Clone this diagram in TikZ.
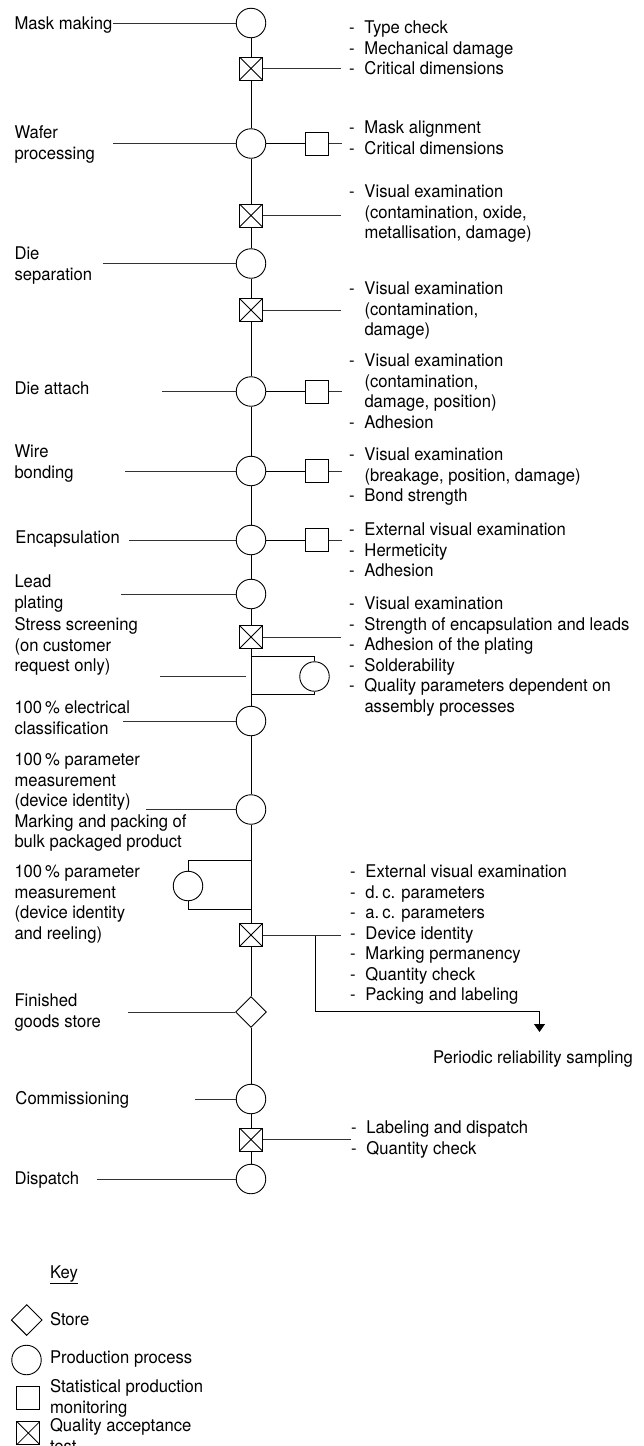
\documentclass[tikz,border=0pt]{standalone}
\usepackage{fontspec}
\setmainfont{TeX Gyre Heros}[FakeStretch=0.95]
\usetikzlibrary{shapes.geometric,arrows.meta}
\newcommand\di{\makebox[15.5pt][l]{-}}
\newcommand\ci{\hspace*{15.5pt}}
\newcommand\lines[1]{\begin{tabular}[t]{@{}l@{}}#1\end{tabular}}
\begin{document}
\begin{tikzpicture}[x=1pt,y=-1pt,
  font=\fontsize{17.5}{20.5}\selectfont,
  proc/.style={circle,draw,fill=white,minimum size=29.5pt,inner sep=0pt,line width=0.9pt},
  spm/.style={rectangle,draw,fill=white,minimum width=23pt,minimum height=23pt,inner sep=0pt,line width=0.9pt},
  qat/.style={spm,path picture={\draw[line width=0.8pt] (path picture bounding box.north west) -- (path picture bounding box.south east) (path picture bounding box.north east) -- (path picture bounding box.south west);}},
  store/.style={diamond,draw,fill=white,minimum width=31pt,minimum height=31pt,inner sep=0pt,line width=0.9pt},
  lbl/.style={anchor=base west,inner sep=0pt,outer sep=0pt},
  conn/.style={line width=0.8pt},
  lead/.style={line width=0.7pt,black!80},
  arr/.style={line width=0.8pt,-{Triangle[width=11pt,length=8pt]}}
]
\useasboundingbox (0,0) rectangle (643,1446);
\def\X{251}
% main flow nodes
\node[proc] (c1) at (\X,23) {};
\node[qat]  (q1) at (\X,68.5) {};
\node[proc] (c2) at (\X,143.5) {};
\node[spm]  (s1) at (317,143.5) {};
\node[qat]  (q2) at (\X,215.5) {};
\node[proc] (c3) at (\X,263.5) {};
\node[qat]  (q3) at (\X,310) {};
\node[proc] (c4) at (\X,391.5) {};
\node[spm]  (s2) at (317,391.5) {};
\node[proc] (c5) at (\X,471) {};
\node[spm]  (s3) at (317,471) {};
\node[proc] (c6) at (\X,540) {};
\node[spm]  (s4) at (317,540) {};
\node[proc] (c7) at (\X,594) {};
\node[qat]  (q4) at (\X,637) {};
\node[proc] (bp1) at (314.5,676.5) {};
\node[proc] (c8) at (\X,721) {};
\node[proc] (c9) at (\X,809.5) {};
\node[proc] (bp2) at (188,886) {};
\node[qat]  (q5) at (\X,935) {};
\node[store] (st) at (\X,1012) {};
\node[proc] (c10) at (\X,1099) {};
\node[qat]  (q6) at (\X,1139.5) {};
\node[proc] (c11) at (\X,1179) {};
% main line
\draw[conn] (c1) -- (q1);
\draw[conn] (q1) -- (c2);
\draw[conn] (c2) -- (q2);
\draw[conn] (q2) -- (c3);
\draw[conn] (c3) -- (q3);
\draw[conn] (q3) -- (c4);
\draw[conn] (c4) -- (c5);
\draw[conn] (c5) -- (c6);
\draw[conn] (c6) -- (c7);
\draw[conn] (c7) -- (q4);
\draw[conn] (q4) -- (c8);
\draw[conn] (c8) -- (c9);
\draw[conn] (c9) -- (q5);
\draw[conn] (q5) -- (st);
\draw[conn] (st) -- (c10);
\draw[conn] (c10) -- (q6);
\draw[conn] (q6) -- (c11);
% circle to monitoring boxes
\draw[conn] (c2) -- (s1);
\draw[conn] (c4) -- (s2);
\draw[conn] (c5) -- (s3);
\draw[conn] (c6) -- (s4);
% bypass loops
\coordinate (j1) at (\X,656);
\coordinate (j2) at (\X,694.5);
\draw[conn] (j1) -| (bp1);
\draw[conn] (bp1) |- (j2);
\coordinate (j3) at (\X,860);
\coordinate (j4) at (\X,909);
\draw[conn] (j3) -| (bp2);
\draw[conn] (bp2) |- (j4);
% branch to periodic reliability sampling
\coordinate (b1) at (315.4,935);
\coordinate (b2) at (539.5,1011);
\coordinate (b3) at (539.5,1032);
\draw[arr] (b1) |- (b2) -- (b3);
% left leader lines
\coordinate (l1) at (113,23);     \draw[lead] (l1) -- (c1);
\coordinate (l2) at (113,143.5);  \draw[lead] (l2) -- (c2);
\coordinate (l3) at (102.7,263.5);\draw[lead] (l3) -- (c3);
\coordinate (l4) at (162,391.5);  \draw[lead] (l4) -- (c4);
\coordinate (l5) at (125,471);    \draw[lead] (l5) -- (c5);
\coordinate (l6) at (129,540);    \draw[lead] (l6) -- (c6);
\coordinate (l7) at (121,594);    \draw[lead] (l7) -- (c7);
\coordinate (l8a) at (160,676);   \coordinate (l8b) at (246,676); \draw[lead] (l8a) -- (l8b);
\coordinate (l9) at (123,721);    \draw[lead] (l9) -- (c8);
\coordinate (l10) at (146,809.5); \draw[lead] (l10) -- (c9);
\coordinate (l11) at (128,1012);  \draw[lead] (l11) -- (st);
\coordinate (l12) at (195,1099);  \draw[lead] (l12) -- (c10);
\coordinate (l13) at (96.5,1179); \draw[lead] (l13) -- (c11);
% right leader lines
\coordinate (r1) at (341,68.5);   \draw[lead] (q1) -- (r1);
\coordinate (r2) at (341.5,143.5);\draw[lead] (s1) -- (r2);
\coordinate (r3) at (341,215.5);  \draw[lead] (q2) -- (r3);
\coordinate (r4) at (341,310);    \draw[lead] (q3) -- (r4);
\coordinate (r5) at (341.5,391.5);\draw[lead] (s2) -- (r5);
\coordinate (r6) at (341.5,471);  \draw[lead] (s3) -- (r6);
\coordinate (r7) at (341.5,540);  \draw[lead] (s4) -- (r7);
\coordinate (r8) at (341,637);    \draw[lead] (q4) -- (r8);
\coordinate (r9) at (341,935);    \draw[lead] (q5) -- (r9);
\coordinate (r10) at (351,1139.5);\draw[lead] (q6) -- (r10);
% left labels
\node[lbl] (t1) at (14.5,29) {Mask making};
\node[lbl] (t2) at (14.5,138.5) {\lines{Wafer\\processing}};
\node[lbl] (t3) at (14.5,259.5) {\lines{Die\\separation}};
\node[lbl] (t4) at (14.5,394.5) {Die attach};
\node[lbl] (t5) at (14.5,457.5) {\lines{Wire\\bonding}};
\node[lbl] (t6) at (15.5,543.5) {Encapsulation};
\node[lbl] (t7) at (14.5,587.5) {\lines{Lead\\plating}};
\node[lbl] (t8) at (14.5,630.5) {\lines{Stress screening\\(on customer\\request only)}};
\node[lbl] (t9) at (14.5,713.5) {\lines{100\,\% electrical\\classification}};
\node[lbl] (t10) at (14.5,765.5) {\lines{100\,\% parameter\\measurement\\(device identity)\\Marking and packing of\\bulk packaged product}};
\node[lbl] (t11) at (14.5,877.5) {\lines{100\,\% parameter\\measurement\\(device identity\\and reeling)}};
\node[lbl] (t12) at (14.5,1006.5) {\lines{Finished\\goods store}};
\node[lbl] (t13) at (15.5,1104.5) {Commissioning};
\node[lbl] (t14) at (14.5,1184.5) {Dispatch};
% right labels
\node[lbl] (u1) at (349,33.5) {\lines{\di Type check\\\di Mechanical damage\\\di Critical dimensions}};
\node[lbl] (u2) at (349,133.5) {\lines{\di Mask alignment\\\di Critical dimensions}};
\node[lbl] (u3) at (349,197.5) {\lines{\di Visual examination\\\ci(contamination, oxide,\\\ci metallisation, damage)}};
\node[lbl] (u4) at (349,294.5) {\lines{\di Visual examination\\\ci(contamination,\\\ci damage)}};
\node[lbl] (u5) at (349,366.5) {\lines{\di Visual examination\\\ci(contamination,\\\ci damage, position)\\\di Adhesion}};
\node[lbl] (u6) at (349,460.5) {\lines{\di Visual examination\\\ci(breakage, position, damage)\\\di Bond strength}};
\node[lbl] (u7) at (349,535.5) {\lines{\di External visual examination\\\di Hermeticity\\\di Adhesion}};
\node[lbl] (u8) at (349,609.5) {\lines{\di Visual examination\\\di Strength of encapsulation and leads\\\di Adhesion of the plating\\\di Solderability\\\di Quality parameters dependent on\\\ci assembly processes}};
\node[lbl] (u9) at (350,877.5) {\lines{\di External visual examination\\\di d.\,c. parameters\\\di a.\,c. parameters\\\di Device identity\\\di Marking permanency\\\di Quantity check\\\di Packing and labeling}};
\node[lbl] (u10) at (351,1133.5) {\lines{\di Labeling and dispatch\\\di Quantity check}};
\node[lbl] (u11) at (433,1063) {Periodic reliability sampling};
% key
\node[lbl] (key) at (50,1278.5) {Key};
\draw[line width=0.6pt] ([yshift=-4.5pt]key.base west) -- ([yshift=-4.5pt]key.base east);
\node[store] (kd) at (26.7,1320) {};
\node[lbl] (k1) at (50,1325.5) {Store};
\node[proc] (kc) at (26.5,1360) {};
\node[lbl] (k2) at (50,1363.5) {Production process};
\node[spm] (ks) at (28.3,1397.5) {};
\node[lbl] (k3) at (50,1392.5) {\lines{Statistical production\\monitoring}};
\node[qat] (kq) at (28.3,1433) {};
\node[lbl] (k4) at (50,1431.5) {\lines{Quality acceptance\\test}};
\end{tikzpicture}
\end{document}
